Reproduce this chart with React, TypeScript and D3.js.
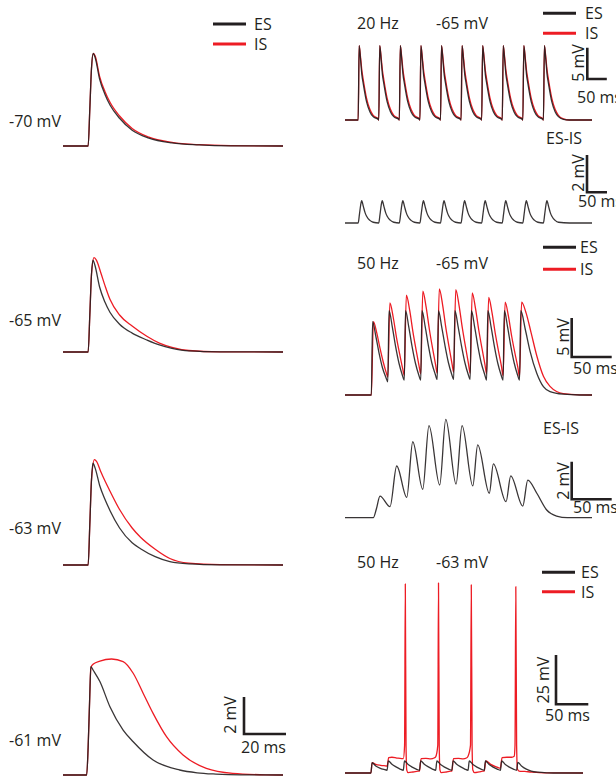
import React from "react";
import * as d3 from "d3";

type Pt = [number, number];

// ---------- left column: single EPSPs (t in ms, v in mV above rest) ----------
const epsp70ES: Pt[] = [[0, 0], [12, 0], [12.8, 2.0], [13.6, 4.2], [14.4, 5.0], [15.3, 4.8], [17.5, 3.6], [20, 2.8], [22.5, 2.2], [27, 1.5], [33, 0.85], [41, 0.43], [52, 0.17], [65, 0.06], [80, 0.01], [105, 0]];
const epsp70IS: Pt[] = [[0, 0], [12, 0], [12.8, 2.0], [13.6, 4.2], [14.5, 5.0], [15.4, 4.85], [17.5, 3.75], [20, 2.95], [22.5, 2.35], [27, 1.62], [33, 0.95], [41, 0.48], [52, 0.2], [65, 0.07], [80, 0.02], [105, 0]];

const epsp65ES: Pt[] = [[0, 0], [12, 0], [12.8, 2.0], [13.6, 4.2], [14.3, 4.97], [15.2, 4.7], [17.5, 3.5], [20, 2.7], [22.4, 2.15], [27, 1.5], [33, 1.02], [40, 0.65], [46, 0.38], [52, 0.2], [60, 0.06], [75, 0.01], [105, 0]];
const epsp65IS: Pt[] = [[0, 0], [12, 0], [12.8, 2.0], [13.6, 4.2], [14.8, 5.1], [16, 4.95], [18, 4.3], [20, 3.6], [22.4, 2.85], [27, 2.0], [33, 1.4], [40, 0.85], [46, 0.48], [52, 0.25], [60, 0.08], [75, 0.01], [105, 0]];

const epsp63ES: Pt[] = [[0, 0], [12, 0], [12.8, 2.2], [13.6, 4.6], [14.3, 5.5], [15.3, 5.25], [17.5, 4.3], [20, 3.55], [22.4, 2.95], [27, 2.0], [33, 1.2], [37, 0.88], [44, 0.45], [51, 0.18], [60, 0.06], [75, 0.01], [105, 0]];
const epsp63IS: Pt[] = [[0, 0], [12, 0], [12.8, 2.2], [13.6, 4.6], [15, 5.7], [16, 5.6], [18, 5.05], [20, 4.55], [22.4, 4.0], [27, 3.0], [33, 2.0], [37, 1.5], [44, 0.85], [51, 0.35], [60, 0.1], [75, 0.02], [105, 0]];

const epsp61ES: Pt[] = [[0, 0], [11.3, 0], [12, 1.5], [12.7, 4.0], [13.3, 5.86], [14.5, 5.65], [17.6, 5.05], [22.4, 3.69], [28.7, 2.43], [33.5, 1.8], [43, 0.81], [55.7, 0.27], [64, 0.12], [73, 0.05], [85, 0.01], [105, 0]];
const epsp61IS: Pt[] = [[0, 0], [11.3, 0], [12, 1.5], [12.7, 4.0], [13.3, 5.8], [14.5, 6.0], [17.6, 6.16], [23.2, 6.27], [28.7, 6.13], [33.5, 5.5], [38.3, 4.41], [43, 3.33], [49.4, 2.07], [57.3, 1.08], [68.4, 0.36], [81, 0.09], [96.8, 0.01], [105, 0]];

// ---------- 20 Hz train at -65 mV ----------
const hz20Onsets = [32, 82, 132, 182, 232, 282, 332, 382, 432, 482];
const hz20Offsets = [0, 2.4, 5.8, 9, 12.2, 20.3, 28.4, 36.4, 48.5];
const hz20ES = [0, 11.85, 9.6, 7.2, 5.85, 2.93, 1.33, 0.53, 0.11];
const hz20IS = [0, 11.85, 10.0, 7.9, 6.5, 3.5, 1.7, 0.75, 0.18];
const hz20DiffOffsets = [0, 3, 6, 8.5, 12.5, 16.5, 20.5, 28.5, 36.5];
const hz20Diff = [0, 0.45, 0.95, 1.19, 0.89, 0.57, 0.36, 0.14, 0.04];
const hz20Tail: Pt[] = [[545, 0], [600, 0]];

// ---------- 50 Hz train at -65 mV ----------
const hz50Onsets = [32, 52, 72, 92, 112, 132, 152, 172, 192, 212];
const hz50EsOffsets = [0, 1.5, 5.5, 9.5, 13.5, 17.5];
const hz50ES = [
  [0, 9.4, 7.5, 5.3, 3.5, 2.3],
  [1.7, 10.8, 8.7, 6.2, 4.1, 2.6],
  [1.9, 10.8, 8.7, 6.2, 4.1, 2.6],
  [1.9, 10.8, 8.7, 6.2, 4.1, 2.7],
  [2.0, 10.8, 8.7, 6.3, 4.2, 2.7],
  [2.0, 10.8, 8.7, 6.3, 4.2, 2.7],
  [2.0, 10.8, 8.7, 6.2, 4.1, 2.7],
  [1.9, 10.8, 8.7, 6.2, 4.1, 2.6],
  [1.9, 10.8, 8.7, 6.2, 4.1, 2.6],
];
const hz50EsTail: Pt[] = [[212, 1.9], [213.5, 10.8], [219, 8.4], [224.8, 5.6], [232.9, 2.8], [241, 1.07], [249, 0.43], [265, 0.1], [285, 0], [300, 0]];
const hz50IsOffsets = [0, 2.5, 6.5, 10.5, 14.5, 18];
const hz50IS = [
  [0, 9.4, 8.0, 6.0, 4.2, 2.9],
  [2.3, 11.8, 10.0, 7.4, 5.2, 3.4],
  [2.5, 12.8, 10.9, 8.1, 5.7, 3.7],
  [2.7, 13.3, 11.3, 8.4, 5.9, 3.9],
  [2.8, 13.6, 11.6, 8.6, 6.1, 4.0],
  [2.9, 13.5, 11.5, 8.6, 6.1, 4.0],
  [2.8, 13.1, 11.1, 8.3, 5.9, 3.9],
  [2.7, 12.5, 10.6, 7.9, 5.6, 3.7],
  [2.5, 11.9, 10.1, 7.5, 5.3, 3.5],
];
const hz50IsTail: Pt[] = [[212, 2.3], [214.5, 11.9], [220, 10.5], [226, 8.0], [233, 5.0], [241, 2.4], [249, 1.1], [257, 0.45], [265, 0.18], [285, 0.02], [300, 0]];
const hz50Diff: Pt[] = [[0, 0], [34.4, 0], [38, 0.45], [42.5, 1.15], [54.7, 0.59], [62.8, 2.75], [75, 1.08], [82.3, 4.04], [94.4, 1.51], [102, 4.9], [115, 1.74], [122.4, 5.23], [134.9, 1.79], [142.2, 4.9], [155.2, 1.69], [161.2, 3.87], [175.3, 1.3], [180.2, 2.86], [195.6, 0.85], [201.3, 2.23], [215.9, 0.62], [222, 2.0], [233, 1.3], [245, 0.41], [257, 0.09], [270, 0], [300, 0]];

// ---------- 50 Hz train at -63 mV (IS fires) ----------
const sp50Onsets = [32, 52, 72, 92, 112, 132, 152, 172, 192];
const sp50EsOffsets = [0, 1.5, 6, 11, 16];
const sp50ES = [
  [0, 5.2, 3.6, 2.5, 1.8],
  [1.4, 6.2, 4.4, 3.1, 2.0],
  [1.4, 6.1, 4.3, 3.0, 2.0],
  [1.4, 6.2, 4.4, 3.1, 2.0],
  [1.4, 6.1, 4.3, 3.0, 2.0],
  [1.4, 6.2, 4.4, 3.1, 2.0],
  [1.4, 6.1, 4.3, 3.0, 2.0],
  [1.4, 6.1, 4.3, 3.0, 2.0],
  [1.4, 6.1, 4.3, 3.0, 2.0],
];
const sp50EsTail: Pt[] = [[212, 1.4], [213.5, 5.4], [218, 3.6], [224, 2.0], [230, 1.0], [238, 0.4], [250, 0.1], [265, 0], [294, 0]];
const sp50IS: Pt[] = [
  [0, 0], [32, 0], [33.5, 5.2], [38, 4.4], [44, 3.9], [50, 3.6],
  [52, 3.5], [54, 7.8], [58, 8.0], [64, 7.6], [70, 7.3],
  [72, 7.3], [73.6, 14], [74.5, 96], [75.4, 14], [76.3, 1.5], [78, 0.2], [84, 0.5], [90, 0.9],
  [92, 1.0], [94, 7.3], [100, 7.4], [106, 7.2], [110, 7.6],
  [112, 8.2], [114.6, 14], [115.5, 96.5], [116.4, 14], [117.3, 1.5], [119, 0.2], [125, 0.5], [130, 0.9],
  [132, 1.0], [134, 7.3], [140, 7.4], [146, 7.2], [150, 7.6],
  [152, 8.5], [155, 14], [156, 95.5], [157, 14], [157.9, 1.5], [160, 0.2], [166, 0.6], [170, 0.9],
  [172, 1.0], [174, 6.2], [180, 4.4], [186, 3.2], [190, 2.6],
  [192, 2.5], [194, 7.8], [200, 8.0], [206, 8.0], [209, 8.5], [210, 14], [211, 94.6], [212, 14], [213, 2],
  [215, 1.0], [222, 0.8], [230, 0.5], [240, 0.2], [255, 0.05], [294, 0],
];

const INK = "#231f20";
const RED = "#ed1c24";
const FONT = "'Open Sans', sans-serif";

// repeat read-off pulse values at each stimulus onset
const buildTrain = (onsets: number[], offsets: number[], rows: number[] | number[][], tail: Pt[]): Pt[] => {
  const pts: Pt[] = [[0, 0]];
  onsets.forEach((on, k) => {
    const row = (Array.isArray(rows[0]) ? (rows as number[][])[k] : rows) as number[];
    offsets.forEach((o, i) => pts.push([on + o, row[i]]));
  });
  return pts.concat(tail);
};

const leftPanels = [
  { label: "-70 mV", base: 146, labelY: 121, es: epsp70ES, is: epsp70IS },
  { label: "-65 mV", base: 352, labelY: 320, es: epsp65ES, is: epsp65IS },
  { label: "-63 mV", base: 565, labelY: 528, es: epsp63ES, is: epsp63IS },
  { label: "-61 mV", base: 775, labelY: 740, es: epsp61ES, is: epsp61IS },
];

const rightPanels = [
  { t: [0, 600], xr: [345, 592], base: 120, k: 6.27, es: buildTrain(hz20Onsets, hz20Offsets, hz20ES, hz20Tail), is: buildTrain(hz20Onsets, hz20Offsets, hz20IS, hz20Tail) },
  { t: [0, 600], xr: [345, 592], base: 223, k: 18.7, es: buildTrain(hz20Onsets, hz20DiffOffsets, hz20Diff, hz20Tail), is: null },
  { t: [0, 300], xr: [345, 592], base: 395, k: 7.8, es: buildTrain(hz50Onsets.slice(0, 9), hz50EsOffsets, hz50ES, hz50EsTail), is: buildTrain(hz50Onsets.slice(0, 9), hz50IsOffsets, hz50IS, hz50IsTail) },
  { t: [0, 300], xr: [345, 592], base: 517.7, k: 18.8, es: hz50Diff, is: null },
  { t: [0, 294], xr: [345, 583], base: 773, k: 1.97, es: buildTrain(sp50Onsets, sp50EsOffsets, sp50ES, sp50EsTail), is: sp50IS },
];

// scale bars: corner x,y, vertical & horizontal length (px), labels
const scaleBars = [
  { x: 244, y: 734, h: 37, w: 42, v: "2 mV", vx: 230, vy: 715, tx: 241, ty: 747, t: "20 ms" },
  { x: 587.3, y: 79, h: 31.3, w: 19.5, v: "5 mV", vx: 578, vy: 63, tx: 577, ty: 97, t: "50 ms" },
  { x: 587, y: 192.3, h: 37.3, w: 20, v: "2 mV", vx: 578, vy: 173, tx: 578, ty: 201, t: "50 ms" },
  { x: 571.7, y: 357, h: 39, w: 40, v: "5 mV", vx: 563, vy: 337, tx: 573, ty: 368, t: "50 ms" },
  { x: 571.7, y: 499.3, h: 37.6, w: 40, v: "2 mV", vx: 563, vy: 481, tx: 573, ty: 507, t: "50 ms" },
  { x: 556, y: 704.3, h: 49.3, w: 32.3, v: "25 mV", vx: 543, vy: 680, tx: 545, ty: 715, t: "50 ms" },
];

const legends = [
  { x: 213, y: 24, tx: 254 },
  { x: 543, y: 13.3, tx: 585 },
  { x: 543, y: 247.3, tx: 580 },
  { x: 542, y: 572.3, tx: 581 },
];
const legendGap = [20, 20, 22, 19.4];

const titles = [
  { text: "20 Hz", x: 357, y: 23 },
  { text: "-65 mV", x: 436, y: 23 },
  { text: "ES-IS", x: 546, y: 138 },
  { text: "50 Hz", x: 357, y: 263 },
  { text: "-65 mV", x: 436, y: 263 },
  { text: "ES-IS", x: 543, y: 428 },
  { text: "50 Hz", x: 357, y: 562 },
  { text: "-63 mV", x: 436, y: 562 },
];

const Trace = ({ pts, x, y, color }: { pts: Pt[]; x: any; y: any; color: string }) => {
  const line = d3
    .line<Pt>()
    .x((d) => x(d[0]))
    .y((d) => y(d[1]))
    .curve(d3.curveMonotoneX);
  return <path d={line(pts) || ""} fill="none" stroke={color} strokeWidth={1.3} strokeLinejoin="round" />;
};

export default function App() {
  const xLeft = d3.scaleLinear().domain([0, 105]).range([63, 283]);
  const txt = { fontFamily: FONT, fontSize: 16, fill: INK } as const;

  return (
    <svg width={616} height={778} style={{ position: "absolute", left: 0, top: 0, background: "#fff" }}>
      {leftPanels.map((p, i) => {
        const y = d3.scaleLinear().domain([0, 1]).range([p.base, p.base - 18.5]);
        return (
          <g key={"l" + i}>
            <Trace pts={p.is} x={xLeft} y={y} color={RED} />
            <g opacity={0.9}>
              <Trace pts={p.es} x={xLeft} y={y} color={INK} />
            </g>
            <text x={9} y={p.labelY} dominantBaseline="central" {...txt}>{p.label}</text>
          </g>
        );
      })}

      {rightPanels.map((p, i) => {
        const x = d3.scaleLinear().domain(p.t).range(p.xr);
        const y = d3.scaleLinear().domain([0, 1]).range([p.base, p.base - p.k]);
        return (
          <g key={"r" + i}>
            {p.is && <Trace pts={p.is} x={x} y={y} color={RED} />}
            <g opacity={0.9}>
              <Trace pts={p.es} x={x} y={y} color={INK} />
            </g>
          </g>
        );
      })}

      {scaleBars.map((s, i) => (
        <g key={"s" + i}>
          <path d={`M${s.x},${s.y - s.h}V${s.y}H${s.x + s.w}`} fill="none" stroke={INK} strokeWidth={2.6} />
          <text transform={`translate(${s.vx},${s.vy}) rotate(-90)`} textAnchor="middle" dominantBaseline="central" {...txt}>{s.v}</text>
          <text x={s.tx} y={s.ty} dominantBaseline="central" {...txt}>{s.t}</text>
        </g>
      ))}

      {legends.map((l, i) => (
        <g key={"g" + i}>
          <line x1={l.x} x2={l.x + 33} y1={l.y} y2={l.y} stroke={INK} strokeWidth={3} />
          <line x1={l.x} x2={l.x + 33} y1={l.y + legendGap[i]} y2={l.y + legendGap[i]} stroke={RED} strokeWidth={3} />
          <text x={l.tx} y={l.y} dominantBaseline="central" {...txt}>ES</text>
          <text x={l.tx} y={l.y + legendGap[i]} dominantBaseline="central" {...txt}>IS</text>
        </g>
      ))}

      {titles.map((t, i) => (
        <text key={"t" + i} x={t.x} y={t.y} dominantBaseline="central" {...txt}>{t.text}</text>
      ))}
    </svg>
  );
}
